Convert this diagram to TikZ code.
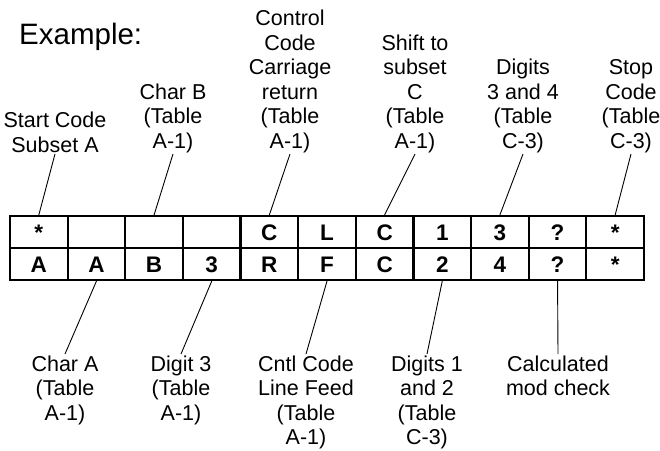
\documentclass[tikz,border=0pt]{standalone}
\usepackage{fontspec}
\setmainfont{Liberation Sans}
\begin{document}
\begin{tikzpicture}[x=1pt,y=-1pt,
  lbl/.style={align=center, inner sep=0pt, outer sep=1.5pt, font=\fontsize{21.5}{24.5}\selectfont},
  cell/.style={minimum width=57.636pt, minimum height=32pt, inner sep=0pt, outer sep=1.1pt,
    font=\fontsize{22.5}{27}\selectfont\bfseries, text height=16pt, text depth=0pt},
  gridline/.style={line width=2.2pt, line cap=rect},
  conn/.style={line width=0.9pt}]
\useasboundingbox (0,0) rectangle (660,450);
\node[anchor=base west, inner sep=0pt, font=\fontsize{29.5}{34}\selectfont] (ex) at (19,44) {Example:};
% table cells
\foreach \t [count=\i] in {*,{},{},{},C,L,C,1,3,?,*}
  \node[cell] (t\i) at ({10+(\i-0.5)*57.636},232) {\t};
\foreach \t [count=\i] in {A,A,B,3,R,F,C,2,4,?,*}
  \node[cell] (b\i) at ({10+(\i-0.5)*57.636},264) {\t};
% grid
\draw[gridline] (10,216) rectangle (644,280);
\draw[gridline] (10,248) -- (644,248);
\foreach \i in {1,...,10}
  \draw[gridline] ({10+\i*57.636},216) -- ({10+\i*57.636},280);
% top labels
\node[lbl, anchor=south] (lStart) at (55,154) {Start Code\\Subset A};
\node[lbl, anchor=south] (lCharB) at (173,154) {Char B\\(Table\\A-1)};
\node[lbl, anchor=south] (lCtrl) at (290,154) {Control\\Code\\Carriage\\return\\(Table\\A-1)};
\node[lbl, anchor=south] (lShift) at (415,154) {Shift to\\subset\\C\\(Table\\A-1)};
\node[lbl, anchor=south] (lD34) at (523,154) {Digits\\3 and 4\\(Table\\C-3)};
\node[lbl, anchor=south] (lStop) at (631,154) {Stop\\Code\\(Table\\C-3)};
% bottom labels
\node[lbl, anchor=north] (lCharA) at (65,354) {Char A\\(Table\\A-1)};
\node[lbl, anchor=north] (lD3) at (181,354) {Digit 3\\(Table\\A-1)};
\node[lbl, anchor=north] (lCntl) at (306,354) {Cntl Code\\Line Feed\\(Table\\A-1)};
\node[lbl, anchor=north] (lD12) at (427,354) {Digits 1\\and 2\\(Table\\C-3)};
\node[lbl, anchor=north] (lCalc) at (558,354) {Calculated\\mod check};
% connectors
\draw[conn] (lStart.south) -- (t1.north);
\draw[conn] (lCharB.south) -- (t3.north);
\draw[conn] (lCtrl.south) -- (t5.north);
\draw[conn] (lShift.south) -- (t7.north);
\draw[conn] (lD34.south) -- (t9.north);
\draw[conn] (lStop.south) -- (t11.north);
\draw[conn] (b2.south) -- (lCharA.north);
\draw[conn] (b4.south) -- (lD3.north);
\draw[conn] (b6.south) -- (lCntl.north);
\draw[conn] (b8.south) -- (lD12.north);
\draw[conn] (b10.south) -- (lCalc.north);
\end{tikzpicture}
\end{document}
